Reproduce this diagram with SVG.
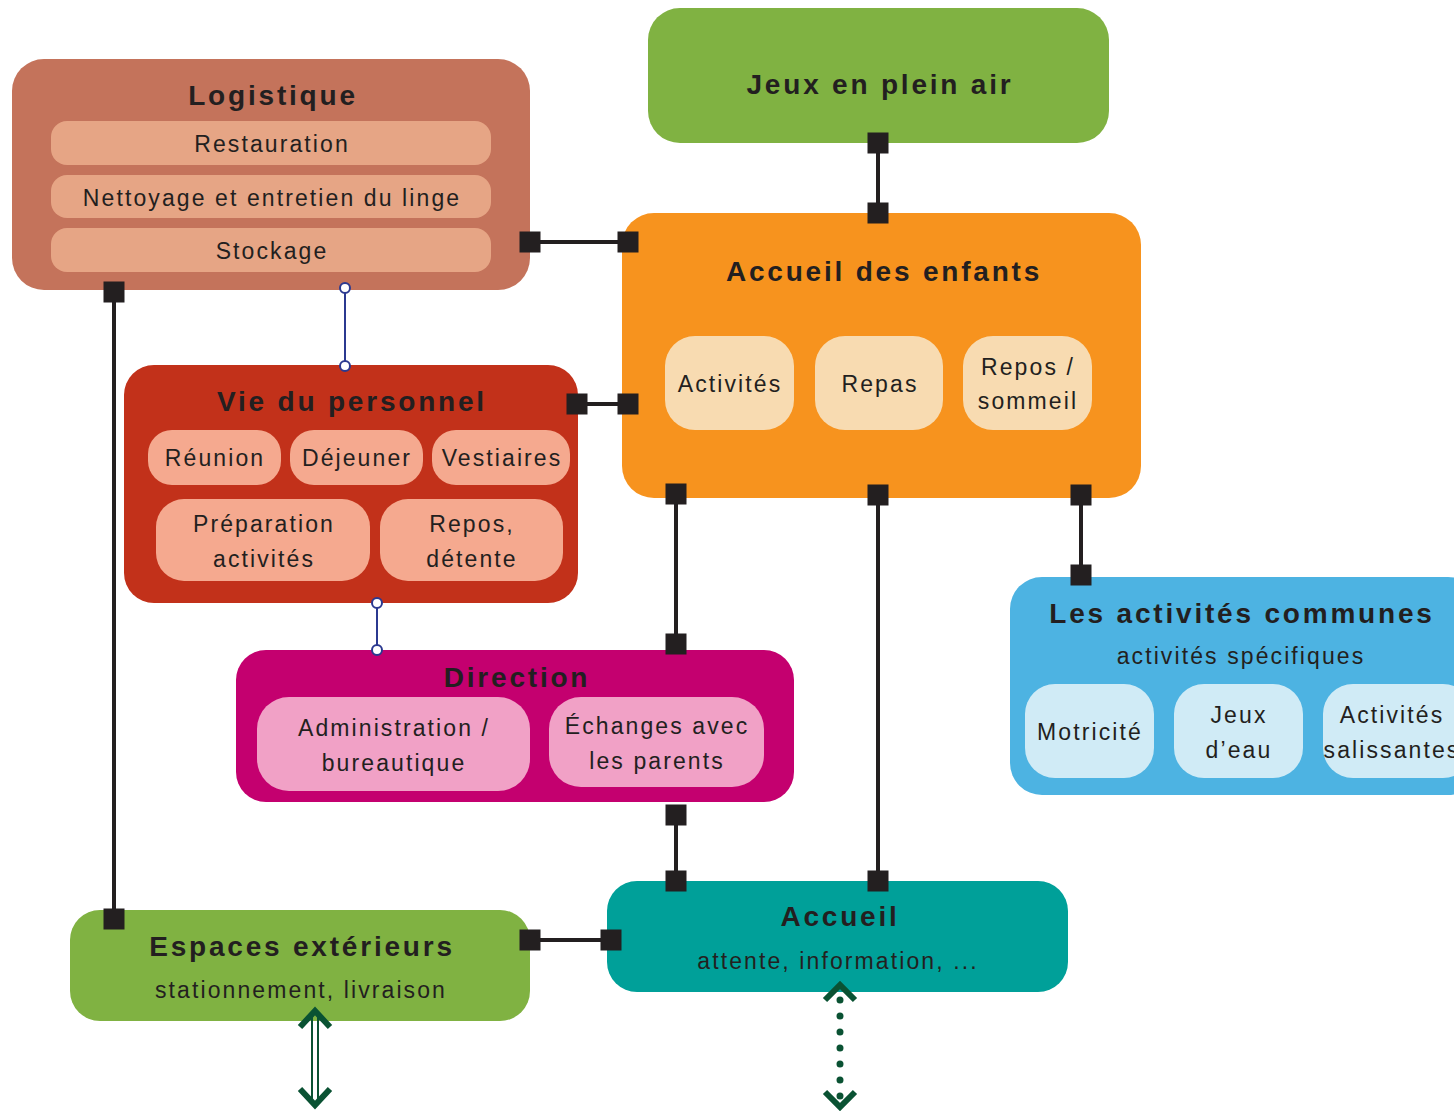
<svg xmlns="http://www.w3.org/2000/svg" width="1454" height="1111" viewBox="0 0 1454 1111">
<style>
text{font-family:"Liberation Sans",Arial,sans-serif;fill:#231f20;text-anchor:middle}
.t{font-weight:bold;font-size:28px;letter-spacing:2.8px}
.s{font-size:23px;letter-spacing:2.1px}
.ln{stroke:#231f20;stroke-width:4;fill:none}
.sq{fill:#231f20}
.bl{stroke:#2b3990;stroke-width:2;fill:none}
.bc{stroke:#2b3990;stroke-width:2;fill:#fff}
.ar{stroke:#0a5233;fill:none}
</style>
<defs>
<rect id="sq" x="-10.5" y="-10.5" width="21" height="21"/>
</defs>

<g id="jeux">
<rect x="648" y="8" width="461" height="135" rx="32" fill="#80b242"/>
<text class="t" x="880" y="94">Jeux en plein air</text>
</g>

<g id="logistique">
<rect x="12" y="59" width="518" height="231" rx="32" fill="#c4735b"/>
<text class="t" x="273" y="105">Logistique</text>
<rect x="51" y="121" width="440" height="44" rx="16" fill="#e6a585"/>
<rect x="51" y="175" width="440" height="43" rx="16" fill="#e6a585"/>
<rect x="51" y="228" width="440" height="44" rx="16" fill="#e6a585"/>
<text class="s" x="272" y="152">Restauration</text>
<text class="s" x="272" y="206">Nettoyage et entretien du linge</text>
<text class="s" x="272" y="259">Stockage</text>
</g>

<g id="accueil-enfants">
<rect x="622" y="213" width="519" height="285" rx="32" fill="#f7931e"/>
<text class="t" x="884" y="281">Accueil des enfants</text>
<rect x="665" y="336" width="129" height="94" rx="30" fill="#f8dbb1"/>
<rect x="815" y="336" width="128" height="94" rx="30" fill="#f8dbb1"/>
<rect x="963" y="336" width="129" height="94" rx="30" fill="#f8dbb1"/>
<text class="s" x="730" y="392">Activités</text>
<text class="s" x="880" y="392">Repas</text>
<text class="s" x="1028" y="375">Repos /</text>
<text class="s" x="1028" y="409">sommeil</text>
</g>

<g id="vie-personnel">
<rect x="124" y="365" width="454" height="238" rx="30" fill="#c2311a"/>
<text class="t" x="352" y="411">Vie du personnel</text>
<rect x="148" y="430" width="133" height="55" rx="24" fill="#f5a98f"/>
<rect x="290" y="430" width="133" height="55" rx="24" fill="#f5a98f"/>
<rect x="432" y="430" width="138" height="55" rx="24" fill="#f5a98f"/>
<rect x="156" y="499" width="214" height="82" rx="28" fill="#f5a98f"/>
<rect x="380" y="499" width="183" height="82" rx="28" fill="#f5a98f"/>
<text class="s" x="215" y="466">Réunion</text>
<text class="s" x="357" y="466">Déjeuner</text>
<text class="s" x="502" y="466">Vestiaires</text>
<text class="s" x="264" y="532">Préparation</text>
<text class="s" x="264" y="567">activités</text>
<text class="s" x="472" y="532">Repos,</text>
<text class="s" x="472" y="567">détente</text>
</g>

<g id="direction">
<rect x="236" y="650" width="558" height="152" rx="30" fill="#c4006f"/>
<text class="t" x="517" y="687">Direction</text>
<rect x="257" y="697" width="273" height="94" rx="32" fill="#f1a1c6"/>
<rect x="549" y="697" width="215" height="90" rx="32" fill="#f1a1c6"/>
<text class="s" x="394" y="736">Administration /</text>
<text class="s" x="657" y="734">Échanges avec</text>
<text class="s" x="394" y="771">bureautique</text>
<text class="s" x="657" y="769">les parents</text>
</g>

<g id="activites-communes">
<rect x="1010" y="577" width="470" height="218" rx="32" fill="#4db3e2"/>
<text class="t" x="1242" y="623">Les activités communes</text>
<text class="s" x="1241" y="664">activités spécifiques</text>
<rect x="1025" y="684" width="129" height="94" rx="30" fill="#d0ebf6"/>
<rect x="1174" y="684" width="129" height="94" rx="30" fill="#d0ebf6"/>
<rect x="1323" y="684" width="150" height="94" rx="30" fill="#d0ebf6"/>
<text class="s" x="1090" y="740">Motricité</text>
<text class="s" x="1239" y="723">Jeux</text>
<text class="s" x="1239" y="758">d’eau</text>
<text class="s" x="1392" y="723">Activités</text>
<text class="s" x="1392" y="758">salissantes</text>
</g>

<g id="espaces-exterieurs">
<rect x="70" y="910" width="460" height="111" rx="30" fill="#80b242"/>
<text class="t" x="302" y="956">Espaces extérieurs</text>
<text class="s" x="301" y="998">stationnement, livraison</text>
</g>

<g id="accueil">
<rect x="607" y="881" width="461" height="111" rx="30" fill="#00a099"/>
<text class="t" x="840" y="926">Accueil</text>
<text class="s" x="838" y="969">attente, information, ...</text>
</g>

<g id="connectors">
<line class="ln" x1="878" y1="143" x2="878" y2="213"/>
<use href="#sq" class="sq" x="878" y="143"/>
<use href="#sq" class="sq" x="878" y="213"/>

<line class="ln" x1="530" y1="242" x2="628" y2="242"/>
<use href="#sq" class="sq" x="530" y="242"/>
<use href="#sq" class="sq" x="628" y="242"/>

<line class="ln" x1="577" y1="404" x2="628" y2="404"/>
<use href="#sq" class="sq" x="577" y="404"/>
<use href="#sq" class="sq" x="628" y="404"/>

<line class="ln" x1="676" y1="494" x2="676" y2="644"/>
<use href="#sq" class="sq" x="676" y="494"/>
<use href="#sq" class="sq" x="676" y="644"/>

<line class="ln" x1="878" y1="495" x2="878" y2="881"/>
<use href="#sq" class="sq" x="878" y="495"/>
<use href="#sq" class="sq" x="878" y="881"/>

<line class="ln" x1="1081" y1="495" x2="1081" y2="575"/>
<use href="#sq" class="sq" x="1081" y="495"/>
<use href="#sq" class="sq" x="1081" y="575"/>

<line class="ln" x1="676" y1="815" x2="676" y2="881"/>
<use href="#sq" class="sq" x="676" y="815"/>
<use href="#sq" class="sq" x="676" y="881"/>

<line class="ln" x1="114" y1="292" x2="114" y2="919"/>
<use href="#sq" class="sq" x="114" y="292"/>
<use href="#sq" class="sq" x="114" y="919"/>

<line class="ln" x1="530" y1="940" x2="611" y2="940"/>
<use href="#sq" class="sq" x="530" y="940"/>
<use href="#sq" class="sq" x="611" y="940"/>

<line class="bl" x1="345" y1="288" x2="345" y2="366"/>
<circle class="bc" cx="345" cy="288" r="5"/>
<circle class="bc" cx="345" cy="366" r="5"/>

<line class="bl" x1="377" y1="603" x2="377" y2="650"/>
<circle class="bc" cx="377" cy="603" r="5"/>
<circle class="bc" cx="377" cy="650" r="5"/>

<line class="ar" stroke-width="2" x1="312" y1="1014" x2="312" y2="1102"/>
<line class="ar" stroke-width="2" x1="318" y1="1014" x2="318" y2="1102"/>
<polyline class="ar" stroke-width="6" points="300,1027 315,1011 330,1027"/>
<polyline class="ar" stroke-width="6" points="300,1089 315,1105 330,1089"/>

<line class="ar" stroke-width="7" stroke-linecap="round" stroke-dasharray="0 16" x1="840" y1="1000" x2="840" y2="1098"/>
<polyline class="ar" stroke-width="6" points="825,1000 840,985 855,1000"/>
<polyline class="ar" stroke-width="6" points="825,1092 840,1107 855,1092"/>
</g>
</svg>
